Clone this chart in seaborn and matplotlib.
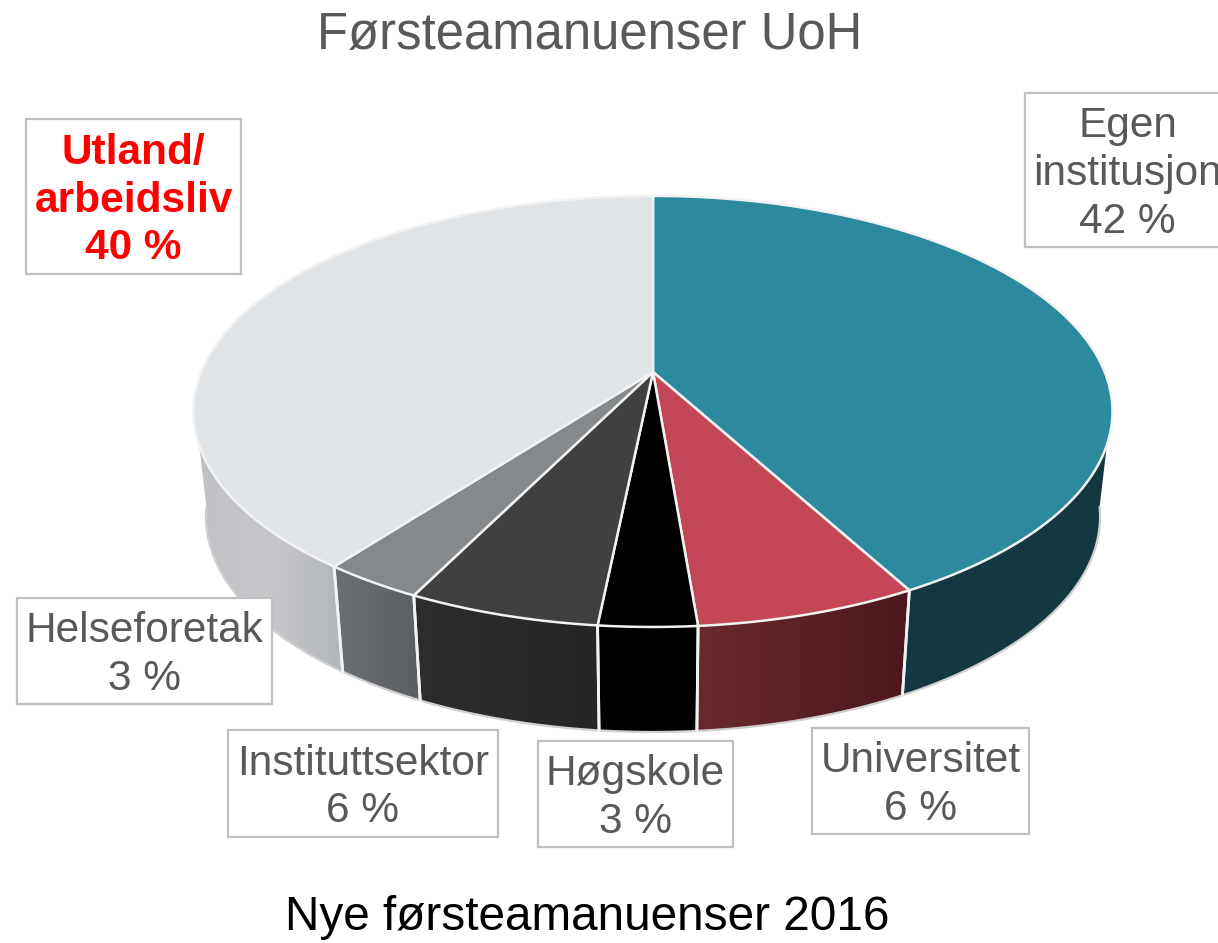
# %%
import numpy as np
import seaborn as sns
import matplotlib.pyplot as plt
from matplotlib.colors import LinearSegmentedColormap
from matplotlib.patches import Polygon, Rectangle

# %%
slice_names = ["Egen\ninstitusjon", "Universitet", "Høgskole", "Instituttsektor", "Helseforetak", "Utland/\narbeidsliv"]
slice_shares = [42.1, 6.6, 2.9, 5.7, 3.0, 39.7]
slice_labels = ["42 %", "6 %", "3 %", "6 %", "3 %", "40 %"]

top_colors = ["#2D8A9E", "#C44757", "#000000", "#404040", "#85898C", "#E1E4E7"]
wall_colors = [
    ["#133840", "#133840"],
    ["#692A2F", "#4C171E"],
    ["#000000", "#000000"],
    ["#2D2D2D", "#252525"],
    ["#6C6F73", "#5C5F62"],
    ["#BFC1C4", "#C6C7CA", "#B3B6B9"],
]

# label box: left, top, right, bottom in pixels of the picture
label_boxes = [
    (1025, 93, 1230, 247),
    (812, 728, 1029, 834),
    (538, 741, 733, 847),
    (228, 730, 498, 837),
    (17, 598, 272, 704),
    (26, 119, 241, 274),
]

W, H = 1218, 943

sns.set_theme(style="white")
plt.rcParams["font.family"] = ["Liberation Sans", "DejaVu Sans"]


# %%
# Pie lying down, seen in perspective | angle in degrees clockwise from 12 o'clock
def top_xy(angle):
    t = np.radians(angle)
    u, v = np.sin(t), -np.cos(t)
    den = 1 - 0.183 * v
    return 653 + 451.7 * u / den, 372 + 208.3 * v / den


def bottom_xy(angle):
    x, y = top_xy(angle)
    return 653 + 0.973 * (x - 653), y + 105


fig = plt.figure(figsize=(W / 100, H / 100), dpi=100)
ax = fig.add_axes([0, 0, 1, 1])

edges = np.concatenate([[0], np.cumsum(slice_shares)]) / np.sum(slice_shares) * 360

# %%
# Side walls
for i in range(len(slice_shares)):
    a0 = max(edges[i], 98)
    a1 = min(edges[i + 1], 262)
    if a1 <= a0:
        continue
    arc = np.linspace(a0, a1, 120)
    tx, ty = top_xy(arc)
    bx, by = bottom_xy(arc)
    pts = np.column_stack([np.concatenate([tx, bx[::-1]]), np.concatenate([ty, by[::-1]])])
    poly = Polygon(pts, closed=True, facecolor="none", edgecolor="none", zorder=2)
    ax.add_patch(poly)
    # colours run left to right, the arc runs right to left
    cmap = LinearSegmentedColormap.from_list("wall", wall_colors[i])
    im = ax.imshow(
        np.linspace(0, 1, 256).reshape(1, -1),
        cmap=cmap,
        aspect="auto",
        extent=[pts[:, 0].min(), pts[:, 0].max(), pts[:, 1].max(), pts[:, 1].min()],
        zorder=2,
    )
    im.set_clip_path(poly)
    # outer rim and seams
    ax.plot(bx, by, color="#CFCFCF", lw=1.6, zorder=3)
    for a in (edges[i], edges[i + 1]):
        if 98 < a < 262:
            ax.plot([top_xy(a)[0], bottom_xy(a)[0]], [top_xy(a)[1], bottom_xy(a)[1]], color="#F2F2F2", lw=2, zorder=4)

# %%
# Top face
for i in range(len(slice_shares)):
    arc = np.linspace(edges[i], edges[i + 1], 200)
    x, y = top_xy(arc)
    ax.add_patch(
        Polygon(
            np.column_stack([np.r_[653, x], np.r_[372, y]]),
            closed=True,
            facecolor=top_colors[i],
            edgecolor="#F2F2F2",
            lw=1.8,
            joinstyle="round",
            zorder=5,
        )
    )

# %%
# Label boxes
for i, (l, t, r, b) in enumerate(label_boxes):
    ax.add_patch(Rectangle((l, t), r - l, b - t, facecolor="white", edgecolor="#BFBFBF", lw=1.6, zorder=6))
    bold = slice_names[i].startswith("Utland")
    ax.text(
        (l + r) / 2,
        (t + b) / 2 + 4,
        slice_names[i] + "\n" + slice_labels[i],
        ha="center",
        va="center",
        fontsize=30.5,
        fontweight="bold" if bold else "normal",
        color="#FF0000" if bold else "#595959",
        linespacing=1.25,
        zorder=7,
    )

ax.text(590, 36, "Førsteamanuenser UoH", ha="center", va="center", fontsize=36.6, color="#595959")
ax.text(587, 918, "Nye førsteamanuenser 2016", ha="center", va="center", fontsize=34.4, color="black")

ax.set_xlim(0, W)
ax.set_ylim(H, 0)
ax.axis("off")

fig.savefig("out.png", dpi=100)
